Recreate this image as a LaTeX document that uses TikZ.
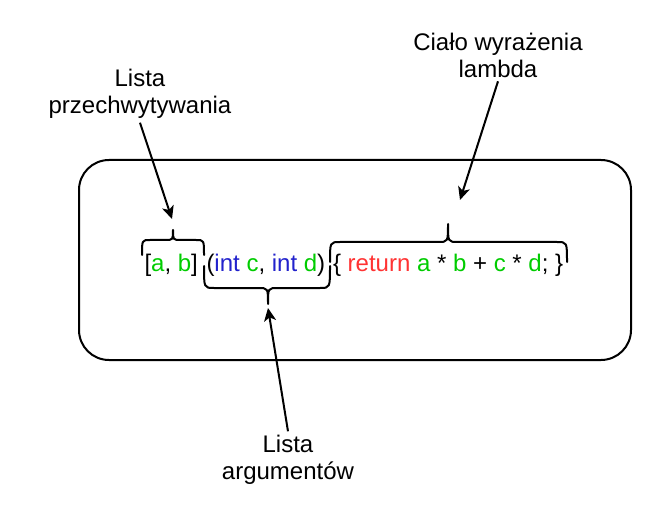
\documentclass[tikz,border=0pt]{standalone}
\usepackage{fontspec}
\setmainfont{Liberation Sans}
\usetikzlibrary{arrows.meta}
\definecolor{cgreen}{HTML}{00CC00}
\definecolor{cblue}{HTML}{2222CC}
\definecolor{cred}{HTML}{FF3333}
\begin{document}
\begin{tikzpicture}[x=1pt,y=-1pt, line width=2pt,
  lbl/.style={font=\fontsize{24}{27}\selectfont, align=center, inner sep=3pt},
  code/.style={font=\fontsize{24}{28}\selectfont, anchor=base west, inner sep=0pt},
  arr/.style={-{Stealth[length=13pt,width=12pt,inset=3.5pt]}},
  bracestyle/.style={line width=2pt, line join=round, line cap=round}]
\useasboundingbox (0,0) rectangle (654,508);
% container
\draw[rounded corners=30pt] (79,160) rectangle (631,360);
% code
\node[code] (capt) at (143.5,271) {[\textcolor{cgreen}{a}, \textcolor{cgreen}{b}]};
\node[code] (args) at (205.5,271) {(\textcolor{cblue}{int} \textcolor{cgreen}{c}, \textcolor{cblue}{int} \textcolor{cgreen}{d})};
\node[code] (body) at (332,271) {\{ \textcolor{cred}{return} \textcolor{cgreen}{a} * \textcolor{cgreen}{b} + \textcolor{cgreen}{c} * \textcolor{cgreen}{d}; \}};
% braces
\draw[bracestyle] (142,255) .. controls (142,240) .. (150,240) -- (165,240)
  .. controls (173,240) .. (173,230) .. controls (173,240) .. (181,240) -- (196,240)
  .. controls (204,240) .. (204,255);
\draw[bracestyle] (204,266) .. controls (204,288) .. (214,288) -- (258,288)
  .. controls (268,288) .. (268,304) .. controls (268,288) .. (278,288) -- (320,288)
  .. controls (330,288) .. (330,266);
\draw[bracestyle] (330,262) .. controls (330,242) .. (340,242) -- (438,242)
  .. controls (448,242) .. (448,224) .. controls (448,242) .. (458,242) -- (557,242)
  .. controls (567,242) .. (567,262);
% labels
\node[lbl] (lab1) at (140,94) {Lista\\przechwytywania};
\node[lbl] (lab3) at (498,55) {Ciało wyrażenia\\lambda};
\node[lbl] (lab2) at (288,460) {Lista\\argumentów};
% arrow targets
\coordinate (t1) at (172,219);
\coordinate (t2) at (268,308);
\coordinate (t3) at (460,200);
\draw[arr] (lab1.south) -- (t1);
\draw[arr] (lab2.north) -- (t2);
\draw[arr] (lab3.south) -- (t3);
\end{tikzpicture}
\end{document}
